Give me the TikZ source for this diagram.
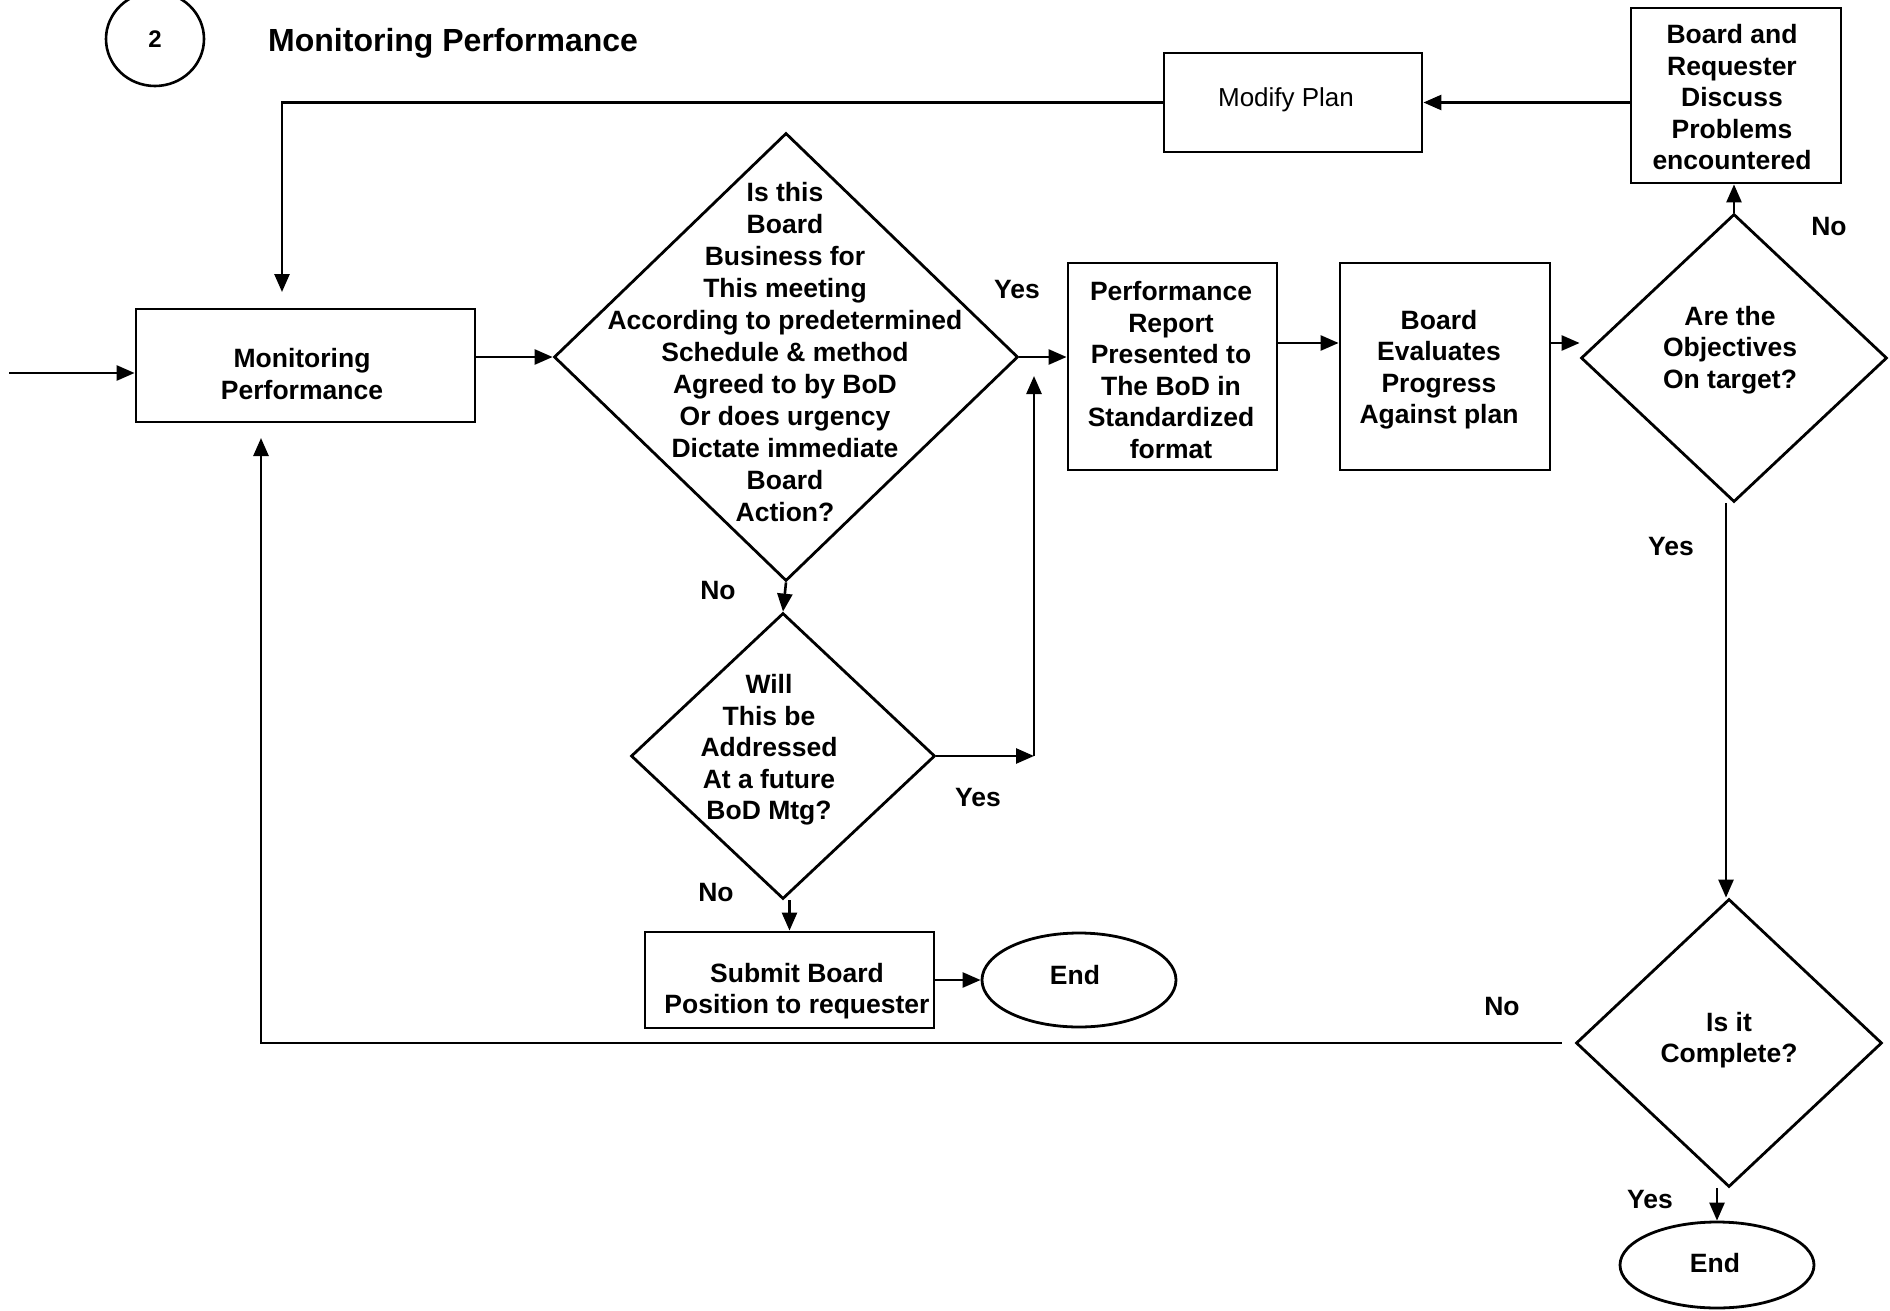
\documentclass[tikz,border=0pt]{standalone}
\usepackage{fontspec}
\setmainfont{Liberation Sans}
\usetikzlibrary{shapes.geometric,arrows.meta,calc}
\begin{document}
\begin{tikzpicture}[x=1pt,y=-1pt,
  shp/.style={draw,line width=2.8pt,inner sep=0pt},
  box/.style={shp,rectangle},
  dia/.style={shp,diamond},
  ell/.style={shp,ellipse},
  txt/.style={align=center,font=\bfseries\fontsize{26.5}{31.5}\selectfont,inner sep=0pt},
  txtb/.style={align=center,font=\bfseries\fontsize{26.5}{32}\selectfont,inner sep=0pt},
  lbl/.style={font=\bfseries\fontsize{26.5}{32}\selectfont,inner sep=0pt},
  arr/.style={line width=2.6pt,-{Triangle[length=18pt,width=15pt]}}]

\useasboundingbox (0,0) rectangle (1890,1311);

% header
\node[draw,ellipse,line width=2.6pt,minimum width=98pt,minimum height=94pt,inner sep=0pt,
      font=\bfseries\fontsize{24}{28}\selectfont] (num) at (155,39) {2};
\node[anchor=west,inner sep=0pt,font=\bfseries\fontsize{32}{38}\selectfont] (title) at (268,43) {Monitoring Performance};

% shapes
\node[box,minimum width=339pt,minimum height=113pt] (mon) at (305.5,365.5) {};
\node[dia,minimum width=464pt,minimum height=448pt] (d1) at (786,357) {};
\node[box,minimum width=209pt,minimum height=207pt] (perf) at (1172.5,366.5) {};
\node[box,minimum width=210pt,minimum height=207pt] (board) at (1445,366.5) {};
\node[dia,minimum width=306pt,minimum height=288pt] (obj) at (1734,358) {};
\node[box,minimum width=210pt,minimum height=175pt] (br) at (1736,95.5) {};
\node[box,minimum width=258pt,minimum height=99pt] (mod) at (1293,102.5) {};
\node[dia,minimum width=304pt,minimum height=286pt] (will) at (783,756) {};
\node[box,minimum width=289pt,minimum height=96pt] (sub) at (789.5,980) {};
\node[ell,minimum width=194pt,minimum height=94pt] (end1) at (1079,980) {};
\node[dia,minimum width=306pt,minimum height=288pt] (cmp) at (1729,1043) {};
\node[ell,minimum width=194pt,minimum height=86pt] (end2) at (1717,1265) {};

% texts
\node[txt] (tmon) at (302,374) {Monitoring\\Performance};
\node[txtb] (td1) at (785,352) {Is this\\Board\\Business for\\This meeting\\According to predetermined\\Schedule \& method\\Agreed to by BoD\\Or does urgency\\Dictate immediate\\Board\\Action?};
\node[txt] (tperf) at (1171,370) {Performance\\Report\\Presented to\\The BoD in\\Standardized\\format};
\node[txt] (tboard) at (1439,369.5) {Board\\Evaluates\\Progress\\Against plan};
\node[txt] (tobj) at (1730,350) {Are the\\Objectives\\On target?};
\node[txt] (tbr) at (1732,97.5) {Board and\\Requester\\Discuss\\Problems\\encountered};
\node[align=center,inner sep=0pt,font=\fontsize{26}{31}\selectfont] (tmod) at (1286,100) {Modify Plan};
\node[txt] (twill) at (769,750) {Will\\This be\\Addressed\\At a future\\BoD Mtg?};
\node[txt] (tsub) at (797,991) {Submit Board\\Position to requester};
\node[txt] (tend1) at (1075,975) {End};
\node[txt] (tcmp) at (1729,1040) {Is it\\Complete?};
\node[txt] (tend2) at (1715,1263) {End};

% labels
\node[lbl] (l1) at (1017,290) {Yes};
\node[lbl] (l2) at (718,591) {No};
\node[lbl] (l3) at (978,798) {Yes};
\node[lbl] (l4) at (716,893) {No};
\node[lbl] (l5) at (1829,227) {No};
\node[lbl] (l6) at (1671,547) {Yes};
\node[lbl] (l7) at (1502,1007) {No};
\node[lbl] (l8) at (1650,1200) {Yes};

% helper coordinates
\coordinate (st) at (9,373);
\coordinate (mtop) at (282,292);
\coordinate (mbot) at (261,438);
\coordinate (wy) at (1034,757);
\coordinate (wyt) at (1034,376);
\coordinate (pb) at ([yshift=23.5pt]perf.east);
\coordinate (bo) at ([yshift=23.5pt]board.east);
\coordinate (os) at ([xshift=-8pt]obj.south);

% connectors
\draw[arr] (st) -- (st -| mon.west);
\draw[arr] (d1.west -| mon.east) -- (d1.west);
\draw[arr] (d1.east) -- (d1.east -| perf.west);
\draw[arr] (pb) -- (pb -| board.west);
\draw[arr] (bo) -- (bo -| obj.west);
\draw[arr] (obj.north) -- (obj.north |- br.south);
\draw[arr] (mod.east -| br.west) -- (mod.east);
\draw[arr] (mod.west) -| (mtop);
\draw[arr] (d1.south) -- (will.north);
\draw[arr] (will.east) -- (will.east -| wy);
\draw[arr] (will.east -| wy) -- (wyt);
\draw[arr] (sub.north |- will.south) -- (sub.north);
\draw[arr] (sub.east) -- (end1.west);
\draw[arr] (os) -- (os |- cmp.north);
\draw[arr] (end2.north |- cmp.south) -- (end2.north);
\draw[arr] ([xshift=-13pt]cmp.west) -| (mbot);

\end{tikzpicture}
\end{document}
